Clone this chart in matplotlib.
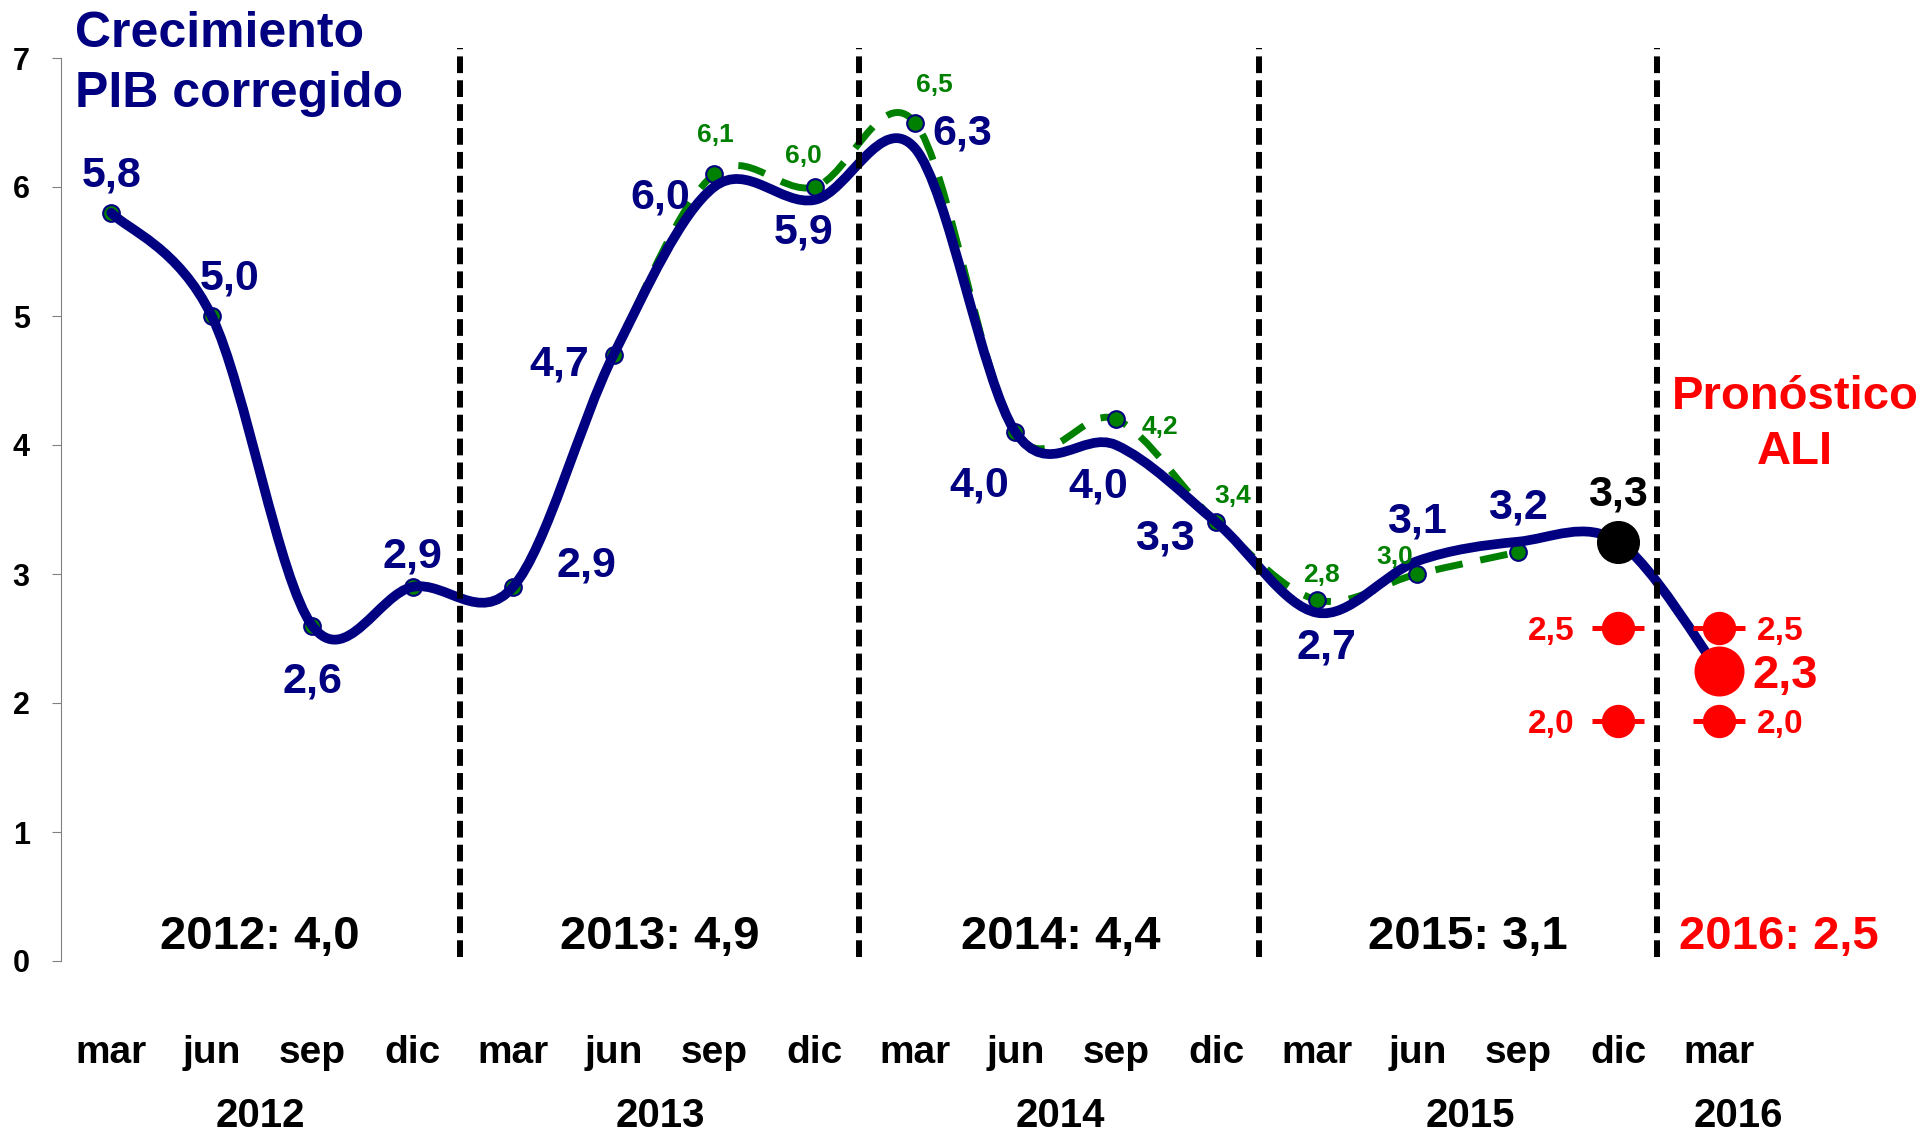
import numpy as np
import matplotlib

matplotlib.use("Agg")
import matplotlib.pyplot as plt
import matplotlib.transforms as mtransforms
from matplotlib.path import Path
from matplotlib.patches import PathPatch

plt.rcParams["font.family"] = ["Liberation Sans", "DejaVu Sans"]
plt.rcParams["font.weight"] = "bold"

NAVY = "#000080"
GREEN = "#008000"
RED = "#FF0000"

# quarters mar 2012 .. mar 2016
months = ["mar", "jun", "sep", "dic"] * 4 + ["mar"]
years = ["2012", "2013", "2014", "2015", "2016"]
year_pos = [1.48, 5.47, 9.45, 13.53, 16.2]

# corrected GDP growth (blue smooth line)
pib_corregido = [5.8, 5.0, 2.6, 2.9, 2.9, 4.7, 6.0, 5.9, 6.3, 4.1, 4.0, 3.4, 2.7, 3.1, 3.25, 3.25, 2.25]
pib_labels = ["5,8", "5,0", "2,6", "2,9", "2,9", "4,7", "6,0", "5,9", "6,3",
              "4,0", "4,0", "3,3", "2,7", "3,1", "3,2"]

# previous series (green dashed with dots)
pib_anterior = [5.8, 5.0, 2.6, 2.9, 2.9, 4.7, 6.1, 6.0, 6.5, 4.1, 4.2, 3.4, 2.8, 3.0, 3.17]
green_label_idx = [6, 7, 8, 10, 11, 12, 13]
green_labels = ["6,1", "6,0", "6,5", "4,2", "3,4", "2,8", "3,0"]

# ALI forecasts
ali_high = [2.58, 2.58]
ali_low = [1.86, 1.86]
ali_pos = [15, 16]
ali_high_label = "2,5"
ali_low_label = "2,0"
ali_central_label = "2,3"
last_label = "3,3"

annual_text = ["2012: 4,0", "2013: 4,9", "2014: 4,4", "2015: 3,1", "2016: 2,5"]
annual_pos = [1.48, 5.46, 9.45, 13.5, 16.6]
annual_color = ["black", "black", "black", "black", RED]

separators = [3.47, 7.44, 11.42, 15.39]

# label offsets in points (dx, dy to label centre)
blue_offsets = [(0, 30), (13, 30), (0, -37), (0, 25), (53, 19), (-39, -4), (-39, -4),
                (-8, -20), (34, 14), (-26, -35), (-13, -27), (-37, -8), (7, -22),
                (0, 32), (0, 28)]
green_offsets = [(1, 30), (-8, 24), (14, 29), (32, -4), (12, 21), (3, 20), (-16, 14)]


def smooth_path(x, y):
    """Excel-like smoothed line as cubic Bezier segments."""
    pts = np.column_stack([x, y]).astype(float)
    n = len(pts)
    verts = [pts[0]]
    codes = [Path.MOVETO]
    for i in range(n - 1):
        p0 = pts[max(i - 1, 0)]
        p1 = pts[i]
        p2 = pts[i + 1]
        p3 = pts[min(i + 2, n - 1)]
        verts += [p1 + (p2 - p0) / 6, p2 - (p3 - p1) / 6, p2]
        codes += [Path.CURVE4] * 3
    return Path(verts, codes)


def label(ax, x, y, text, dx, dy, size, color):
    ax.annotate(text, (x, y), xytext=(dx, dy - 0.36 * size), textcoords="offset points",
                ha="center", va="baseline", fontsize=size, color=color,
                fontweight="bold", zorder=8)


fig = plt.figure(figsize=(19.2, 11.34), dpi=100)
ax = fig.add_axes([61 / 1920, 1 - 961 / 1134, (1769 - 61) / 1920, 903 / 1134])
ax.set_xlim(-0.5, 16.5)
ax.set_ylim(0, 7)

x_blue = np.arange(len(pib_corregido))
x_green = np.arange(len(pib_anterior))

ax.add_patch(PathPatch(smooth_path(x_green, pib_anterior), fill=False, edgecolor=GREEN,
                       lw=5, linestyle=(0, (4, 2.6)), zorder=2))
ax.plot(x_green, pib_anterior, linestyle="none", marker="o", ms=12, mfc=GREEN,
        mec=NAVY, mew=1.5, zorder=3)
ax.add_patch(PathPatch(smooth_path(x_blue, pib_corregido), fill=False, edgecolor=NAVY,
                       lw=7, capstyle="round", joinstyle="round", zorder=4))

# last observed point and forecasts
ax.plot(x_blue[15], pib_corregido[15], marker="o", ms=30, color="black", zorder=5)
for vals in (ali_high, ali_low):
    ax.plot(ali_pos, vals, linestyle="none", marker="_", ms=37, mew=3.6, color=RED, zorder=5)
    ax.plot(ali_pos, vals, linestyle="none", marker="o", ms=23, color=RED, zorder=5)
ax.plot(x_blue[16], pib_corregido[16], marker="o", ms=35, color=RED, zorder=5)

for sx in separators:
    ax.plot([sx, sx], [0.03, 7.08], color="black", lw=4.3, linestyle=(0, (2.8, 1.2)),
            zorder=6, clip_on=False)

for i, txt in enumerate(pib_labels):
    dx, dy = blue_offsets[i]
    label(ax, x_blue[i], pib_corregido[i], txt, dx, dy, 31, NAVY)
for idx, txt, (dx, dy) in zip(green_label_idx, green_labels, green_offsets):
    label(ax, x_green[idx], pib_anterior[idx], txt, dx, dy, 19, GREEN)
label(ax, x_blue[15], pib_corregido[15], last_label, 0, 37, 31, "black")
label(ax, ali_pos[0], ali_high[0], ali_high_label, -48, 0, 24, RED)
label(ax, ali_pos[0], ali_low[0], ali_low_label, -48, 0, 24, RED)
label(ax, ali_pos[1], ali_high[1], ali_high_label, 44, 0, 24, RED)
label(ax, ali_pos[1], ali_low[1], ali_low_label, 44, 0, 24, RED)
label(ax, x_blue[16], pib_corregido[16], ali_central_label, 48, 0, 34, RED)

for txt, xp, col in zip(annual_text, annual_pos, annual_color):
    ax.text(xp, 0.09, txt, ha="center", va="baseline", fontsize=34, color=col,
            fontweight="bold")

ax.text(16.76, 4.28, "Pronóstico", ha="center", va="baseline", fontsize=34, color=RED,
        fontweight="bold", clip_on=False)
ax.text(16.76, 3.85, "ALI", ha="center", va="baseline", fontsize=34, color=RED,
        fontweight="bold", clip_on=False)

fig.text(75 / 1920, 1 - 47 / 1134, "Crecimiento", ha="left", va="baseline",
         fontsize=36, color=NAVY, fontweight="bold")
fig.text(75 / 1920, 1 - 107 / 1134, "PIB corregido", ha="left", va="baseline",
         fontsize=36, color=NAVY, fontweight="bold")

# category axis labels
trans = mtransforms.blended_transform_factory(ax.transData, ax.transAxes)
for i, m in enumerate(months):
    ax.text(i, -0.113, m, transform=trans, ha="center", va="baseline", fontsize=28,
            fontweight="bold", clip_on=False)
for yr, xp in zip(years, year_pos):
    ax.text(xp, -0.184, yr, transform=trans, ha="center", va="baseline", fontsize=29,
            fontweight="bold", clip_on=False)

ax.set_xticks([])
ax.set_yticks(range(8))
ax.tick_params(axis="y", direction="out", length=6.5, width=0.8, color="#808080",
               pad=16, labelsize=22)
for lab in ax.get_yticklabels():
    lab.set_fontweight("bold")
for side in ("top", "right", "bottom"):
    ax.spines[side].set_visible(False)
ax.spines["left"].set_color("#808080")
ax.spines["left"].set_linewidth(0.8)

fig.savefig("out.png", dpi=100)
